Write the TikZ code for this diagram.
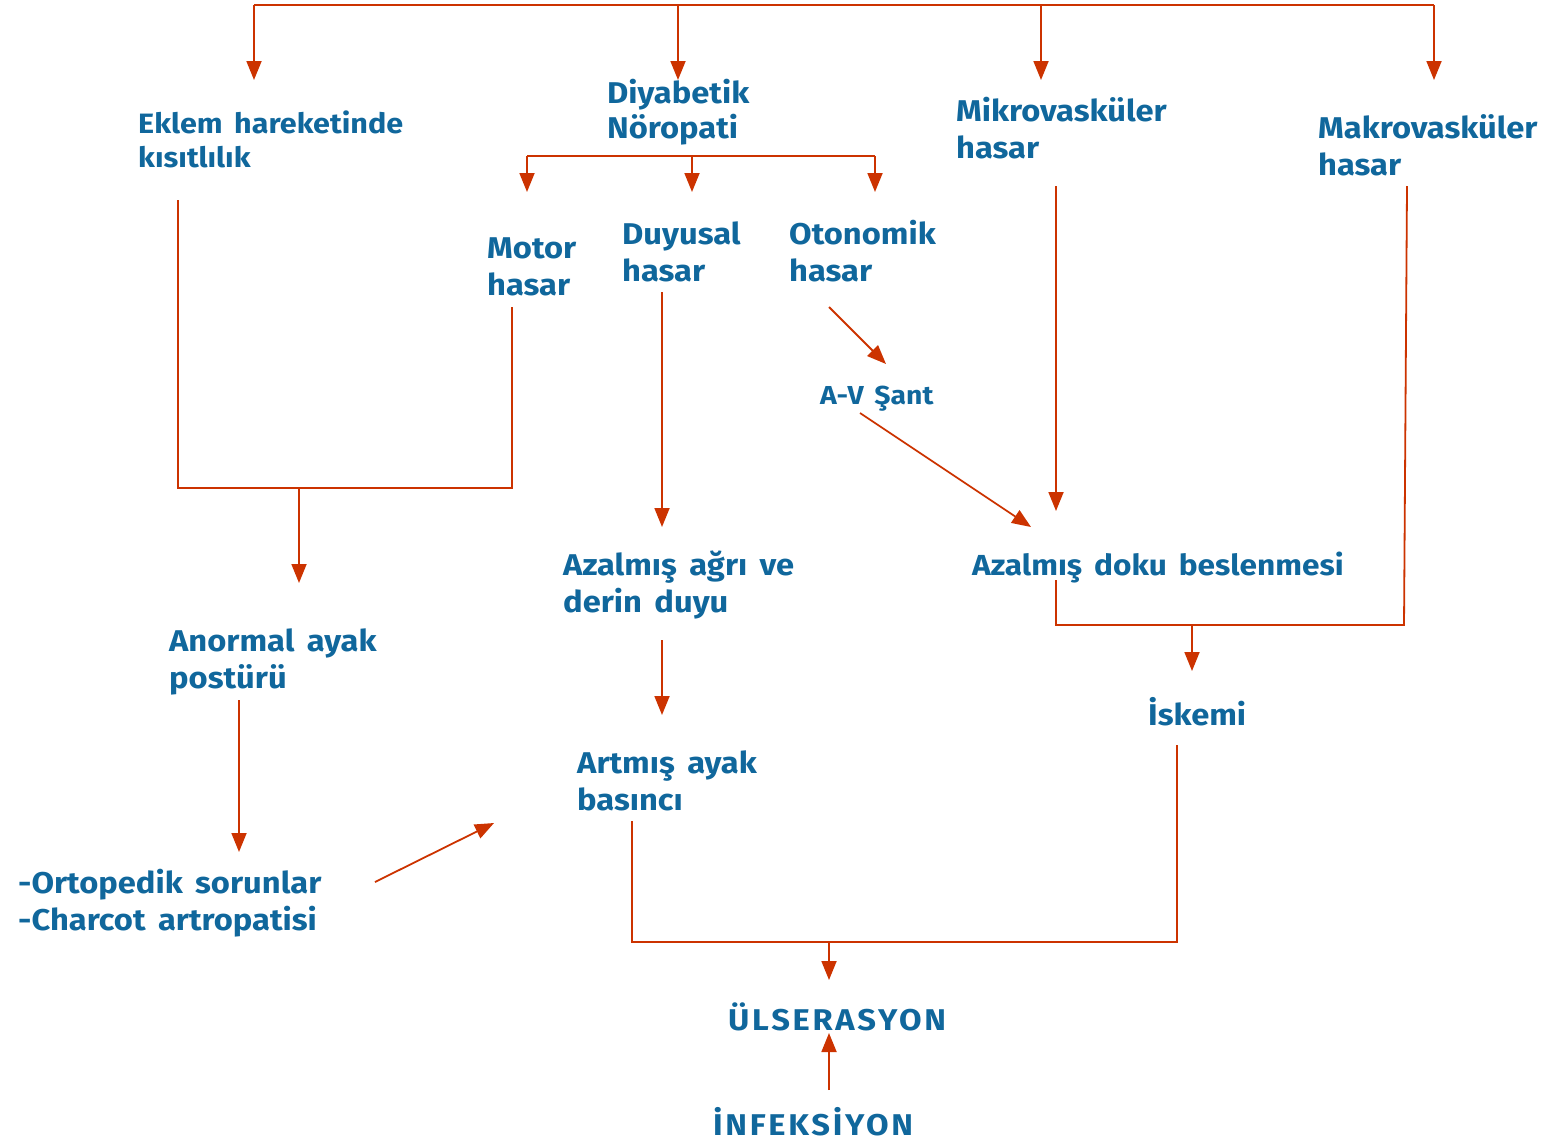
\documentclass[tikz,border=0pt]{standalone}
\usepackage{fontspec}
\setmainfont{Fira Sans}[FakeStretch=1.09,WordSpace=1.6]
\newfontfamily\capsfont{Fira Sans}[FakeStretch=1.09,LetterSpace=9]
\usetikzlibrary{arrows.meta}
\definecolor{tb}{HTML}{10679C}
\definecolor{ar}{HTML}{CC3300}
\begin{document}
\begin{tikzpicture}[x=1pt,y=-1pt,
 lbl/.style={anchor=base west, inner sep=0pt, align=left, text=tb, font=\bfseries\fontsize{30}{37}\selectfont},
 con/.style={draw=ar, line width=1.8pt},
 arr/.style={con, -{Triangle[width=15pt,length=19pt]}}]
\useasboundingbox (0,0) rectangle (1546,1141);
% labels (two-line labels anchored at the baseline of their last line)
\node[lbl, font=\bfseries\fontsize{28}{34}\selectfont] (eklem) at (138,167) {Eklem hareketinde\\kısıtlılık};
\node[lbl] (diyab) at (607,138) {Diyabetik\\[-2pt]Nöropati};
\node[lbl] (mikro) at (956,158) {Mikrovasküler\\hasar};
\node[lbl] (makro) at (1318,175) {Makrovasküler\\hasar};
\node[lbl] (motor) at (487,295) {Motor\\hasar};
\node[lbl] (duyu) at (622,281) {Duyusal\\hasar};
\node[lbl] (oto) at (789,281) {Otonomik\\hasar};
\node[lbl, font=\bfseries\fontsize{26}{30}\selectfont] (av) at (820,404) {A-V Şant};
\node[lbl, font=\bfseries\fontsize{29}{37}\selectfont] (doku) at (972,575) {Azalmış doku beslenmesi};
\node[lbl] (agri) at (563,612) {Azalmış ağrı ve\\derin duyu};
\node[lbl] (anor) at (169,688) {Anormal ayak\\postürü};
\node[lbl] (artm) at (577,810) {Artmış ayak\\basıncı};
\node[lbl] (iske) at (1148,725) {İskemi};
\node[lbl] (orto) at (18,930) {-Ortopedik sorunlar\\-Charcot artropatisi};
\node[lbl, font=\capsfont\bfseries\fontsize{30}{37}\selectfont] (ulse) at (728,1030) {ÜLSERASYON};
\node[lbl, font=\capsfont\bfseries\fontsize{30}{37}\selectfont] (infe) at (713,1135) {İNFEKSİYON};
% coordinates
\coordinate (t1) at (254,5); \coordinate (t2) at (678,5);
\coordinate (t3) at (1041,5); \coordinate (t4) at (1434,5);
\coordinate (eklemIn) at (254,80); \coordinate (diyabIn) at (678,80);
\coordinate (mikroIn) at (1041,80); \coordinate (makroIn) at (1434,80);
\coordinate (s1) at (527,156); \coordinate (s2) at (692,156); \coordinate (s3) at (875,156);
\coordinate (motorIn) at (527,192); \coordinate (duyuIn) at (692,192); \coordinate (otoIn) at (875,192);
\coordinate (otoOut) at (829,307); \coordinate (avIn) at (886,364);
\coordinate (avOut) at (860,413); \coordinate (dokuIn1) at (1031,527);
\coordinate (mikroOut) at (1056,186); \coordinate (dokuIn2) at (1056,511);
\coordinate (makroOut) at (1407,186); \coordinate (m2) at (1404,625);
\coordinate (dokuOut) at (1056,580); \coordinate (d2) at (1056,625);
\coordinate (d3) at (1192,625); \coordinate (iskeIn) at (1192,671);
\coordinate (iskeOut) at (1177,745); \coordinate (i2) at (1177,942);
\coordinate (artmOut) at (632,821); \coordinate (a2) at (632,942);
\coordinate (u1) at (829,942); \coordinate (ulseIn) at (829,980);
\coordinate (duyuOut) at (662,292); \coordinate (agriIn) at (662,527);
\coordinate (agriOut) at (662,640); \coordinate (artmIn) at (662,715);
\coordinate (eklemOut) at (178,200); \coordinate (e2) at (178,488);
\coordinate (motorOut) at (512,307); \coordinate (e3) at (512,488);
\coordinate (e4) at (299,488); \coordinate (anorIn) at (299,583);
\coordinate (anorOut) at (239,700); \coordinate (ortoIn) at (239,852);
\coordinate (ortoOut) at (375,882); \coordinate (artmIn2) at (494,823);
\coordinate (infeOut) at (829,1090); \coordinate (ulseIn2) at (829,1033);
% connectors
\draw[con] (t1) -- (t4);
\draw[arr] (t1) -- (eklemIn);
\draw[arr] (t2) -- (diyabIn);
\draw[arr] (t3) -- (mikroIn);
\draw[arr] (t4) -- (makroIn);
\draw[con] (s1) -- (s3);
\draw[arr] (s1) -- (motorIn);
\draw[arr] (s2) -- (duyuIn);
\draw[arr] (s3) -- (otoIn);
\draw[arr] (otoOut) -- (avIn);
\draw[arr] (avOut) -- (dokuIn1);
\draw[arr] (mikroOut) -- (dokuIn2);
\draw[con] (makroOut) -- (m2) -- (d2) -- (dokuOut);
\draw[arr] (d3) -- (iskeIn);
\draw[con] (iskeOut) -- (i2) -- (a2) -- (artmOut);
\draw[arr] (u1) -- (ulseIn);
\draw[arr] (duyuOut) -- (agriIn);
\draw[arr] (agriOut) -- (artmIn);
\draw[con] (eklemOut) -- (e2) -- (e3) -- (motorOut);
\draw[arr] (e4) -- (anorIn);
\draw[arr] (anorOut) -- (ortoIn);
\draw[arr] (ortoOut) -- (artmIn2);
\draw[arr] (infeOut) -- (ulseIn2);
\end{tikzpicture}
\end{document}
